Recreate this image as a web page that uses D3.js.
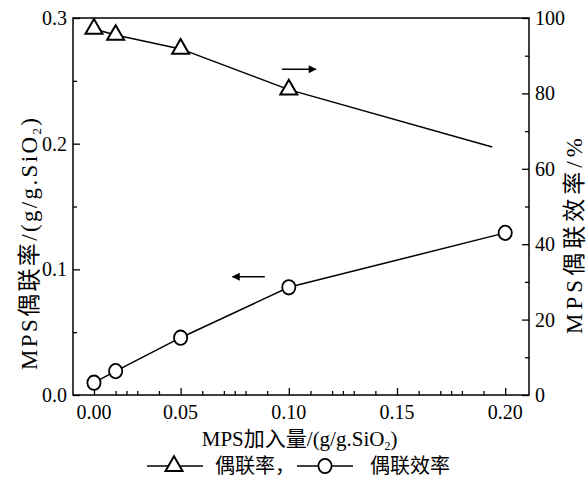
<!DOCTYPE html>
<html>
<head>
<meta charset="utf-8">
<script src="https://cdn.jsdelivr.net/npm/d3@7"></script>
<style>
	body { margin: 0; background: #fff; }
</style>
</head>
<body>
<svg id="chart" width="587" height="479" font-family="'Liberation Serif', 'Times New Roman', 'DejaVu Serif', 'Noto Sans CJK SC', serif"></svg>
<script>
// x positions (g/g SiO2) and the two series
var xCoupling = [0, 0.0125, 0.05, 0.10, 0.194];
var couplingRate = [97.1, 95.5, 91.8, 81.0, 65.8];      // triangles, right axis (%)
var couplingMarker = [true, true, true, true, false];   // line runs on past the last marker

var xEfficiency = [0, 0.0125, 0.05, 0.10, 0.20];
var couplingEff = [0.0098, 0.019, 0.0456, 0.0857, 0.129]; // circles, left axis

var xTicks = [0, 0.05, 0.10, 0.15, 0.20];
var xMinorTicks = [0.0125, 0.01875, 0.025, 0.0375,
	0.06, 0.07, 0.075, 0.08, 0.09,
	0.11, 0.12, 0.125, 0.13, 0.14,
	0.16, 0.17, 0.175, 0.18, 0.19];
var yLeftTicks = [0, 0.1, 0.2, 0.3];
var yLeftMinor = [0.05, 0.15, 0.25];
var yRightTicks = [0, 20, 40, 60, 80, 100];
var yRightMinor = [10, 30, 50, 70, 90];

// direction arrows: [x0, y0, x1, y1], arrowhead at the second end
var arrowRight = [0.0968, 86.4, 0.1125, 86.4];   // right axis units
var arrowLeft = [0.0889, 0.0941, 0.074, 0.0941]; // left axis units

var legendItems = ["偶联率，", "偶联效率"];

var svg = d3.select("#chart");
var m = { left: 73, right: 58, top: 18, bottom: 84 };
var W = 587 - m.left - m.right;
var H = 479 - m.top - m.bottom;

// the original axis is squeezed between 0.00 and 0.05
var x = d3.scaleLinear()
	.domain([-0.012, 0, 0.05, 0.211])
	.range([0, W * 0.046, W * 0.236, W]);
var yL = d3.scaleLinear().domain([0, 0.3]).range([H, 0]);
var yR = d3.scaleLinear().domain([0, 100]).range([H, 0]);

var g = svg.append("g").attr("transform", "translate(" + m.left + "," + m.top + ")");

function tickAxis(axis, vals, len)
{
	return axis.tickValues(vals).tickSize(len).tickFormat("");
}

// inward ticks
g.append("g").attr("transform", "translate(0," + H + ")")
	.call(tickAxis(d3.axisTop(x), xTicks, 7));
g.append("g").attr("transform", "translate(0," + H + ")")
	.call(tickAxis(d3.axisTop(x), xMinorTicks, 4));
g.append("g").call(tickAxis(d3.axisRight(yL), yLeftTicks, 7));
g.append("g").call(tickAxis(d3.axisRight(yL), yLeftMinor, 4));
g.append("g").attr("transform", "translate(" + W + ",0)")
	.call(tickAxis(d3.axisLeft(yR), yRightTicks, 7));
g.append("g").attr("transform", "translate(" + W + ",0)")
	.call(tickAxis(d3.axisLeft(yR), yRightMinor, 4));
g.selectAll(".domain").remove();
g.selectAll(".tick line").attr("stroke", "#000").attr("stroke-width", 1.3);

g.append("rect")
	.attr("width", W).attr("height", H)
	.attr("fill", "none").attr("stroke", "#000").attr("stroke-width", 1.5);

// tick labels
g.selectAll(".xl").data(xTicks).enter().append("text")
	.attr("x", function(d) { return x(d); })
	.attr("y", H + 24)
	.attr("text-anchor", "middle")
	.attr("font-size", 20)
	.text(function(d) { return d.toFixed(2); });
g.selectAll(".yl").data(yLeftTicks).enter().append("text")
	.attr("x", -6)
	.attr("y", function(d) { return yL(d); })
	.attr("dy", "0.35em")
	.attr("text-anchor", "end")
	.attr("font-size", 20)
	.text(function(d) { return d.toFixed(1); });
g.selectAll(".yr").data(yRightTicks).enter().append("text")
	.attr("x", W + 6)
	.attr("y", function(d) { return yR(d); })
	.attr("dy", "0.35em")
	.attr("font-size", 20)
	.text(function(d) { return d; });

// axis titles
function unitTitle(sel, label, sub)
{
	sel.append("tspan").text(label + "/(g/g.SiO");
	sel.append("tspan").attr("dy", 4).attr("font-size", sub).text("2");
	sel.append("tspan").attr("dy", -4).text(")");
}

var xt = g.append("text")
	.attr("x", (x(0) + x(0.2)) / 2)
	.attr("y", H + 51)
	.attr("text-anchor", "middle")
	.attr("font-size", 21);
unitTitle(xt, "MPS加入量", 12);

var ylt = svg.append("text")
	.attr("transform", "translate(37,244) rotate(-90)")
	.attr("text-anchor", "middle")
	.attr("font-size", 23)
	.attr("textLength", 252)
	.attr("lengthAdjust", "spacing");
unitTitle(ylt, "MPS偶联率", 13);

svg.append("text")
	.attr("transform", "translate(582,236) rotate(-90)")
	.attr("text-anchor", "middle")
	.attr("font-size", 23)
	.attr("textLength", 196)
	.attr("lengthAdjust", "spacing")
	.text("MPS偶联效率/%");

// series
var triPts = xCoupling.map(function(d, i) { return [x(d), yR(couplingRate[i]), couplingMarker[i]]; });
var cirPts = xEfficiency.map(function(d, i) { return [x(d), yL(couplingEff[i])]; });

var line = d3.line();
g.append("path").attr("d", line(triPts.map(function(p) { return [p[0], p[1]]; })))
	.attr("fill", "none").attr("stroke", "#000").attr("stroke-width", 1.5);
g.append("path").attr("d", line(cirPts))
	.attr("fill", "none").attr("stroke", "#000").attr("stroke-width", 1.5);

var triangle = d3.symbol().type(d3.symbolTriangle).size(125);

g.selectAll(".tri").data(triPts.filter(function(p) { return p[2]; })).enter().append("path")
	.attr("d", triangle)
	.attr("transform", function(p) { return "translate(" + p[0] + "," + p[1] + ")"; })
	.attr("fill", "#fff").attr("stroke", "#000").attr("stroke-width", 2);

g.selectAll(".cir").data(cirPts).enter().append("ellipse")
	.attr("cx", function(p) { return p[0]; })
	.attr("cy", function(p) { return p[1]; })
	.attr("rx", 6.6).attr("ry", 7.2)
	.attr("fill", "#fff").attr("stroke", "#000").attr("stroke-width", 1.8);

// arrows
svg.append("defs").append("marker")
	.attr("id", "head")
	.attr("viewBox", "0 0 10 10")
	.attr("refX", 9).attr("refY", 5)
	.attr("markerUnits", "userSpaceOnUse")
	.attr("markerWidth", 11).attr("markerHeight", 8)
	.attr("orient", "auto")
	.append("path").attr("d", "M0,0L10,5L0,10z").attr("fill", "#000");

g.append("line")
	.attr("x1", x(arrowRight[0])).attr("y1", yR(arrowRight[1]))
	.attr("x2", x(arrowRight[2])).attr("y2", yR(arrowRight[3]))
	.attr("stroke", "#000").attr("stroke-width", 1.5)
	.attr("marker-end", "url(#head)");
g.append("line")
	.attr("x1", x(arrowLeft[0])).attr("y1", yL(arrowLeft[1]))
	.attr("x2", x(arrowLeft[2])).attr("y2", yL(arrowLeft[3]))
	.attr("stroke", "#000").attr("stroke-width", 1.5)
	.attr("marker-end", "url(#head)");

// legend
var lg = svg.append("g").attr("transform", "translate(147,466)");
var items = lg.selectAll("g").data(legendItems).enter().append("g")
	.attr("transform", function(d, i) { return "translate(" + (i * 150) + ",0)"; });
items.append("line").attr("x1", 0).attr("x2", 56)
	.attr("stroke", "#000").attr("stroke-width", 1.5);
items.filter(function(d, i) { return i == 0; }).append("path")
	.attr("d", triangle).attr("transform", "translate(27,0)")
	.attr("fill", "#fff").attr("stroke", "#000").attr("stroke-width", 2);
items.filter(function(d, i) { return i == 1; }).append("ellipse")
	.attr("cx", 28).attr("rx", 6.6).attr("ry", 7.2)
	.attr("fill", "#fff").attr("stroke", "#000").attr("stroke-width", 1.8);
items.append("text")
	.attr("x", function(d, i) { return i == 0 ? 68 : 73; })
	.attr("y", 7)
	.attr("font-size", 20)
	.text(function(d) { return d; });
</script>
</body>
</html>
